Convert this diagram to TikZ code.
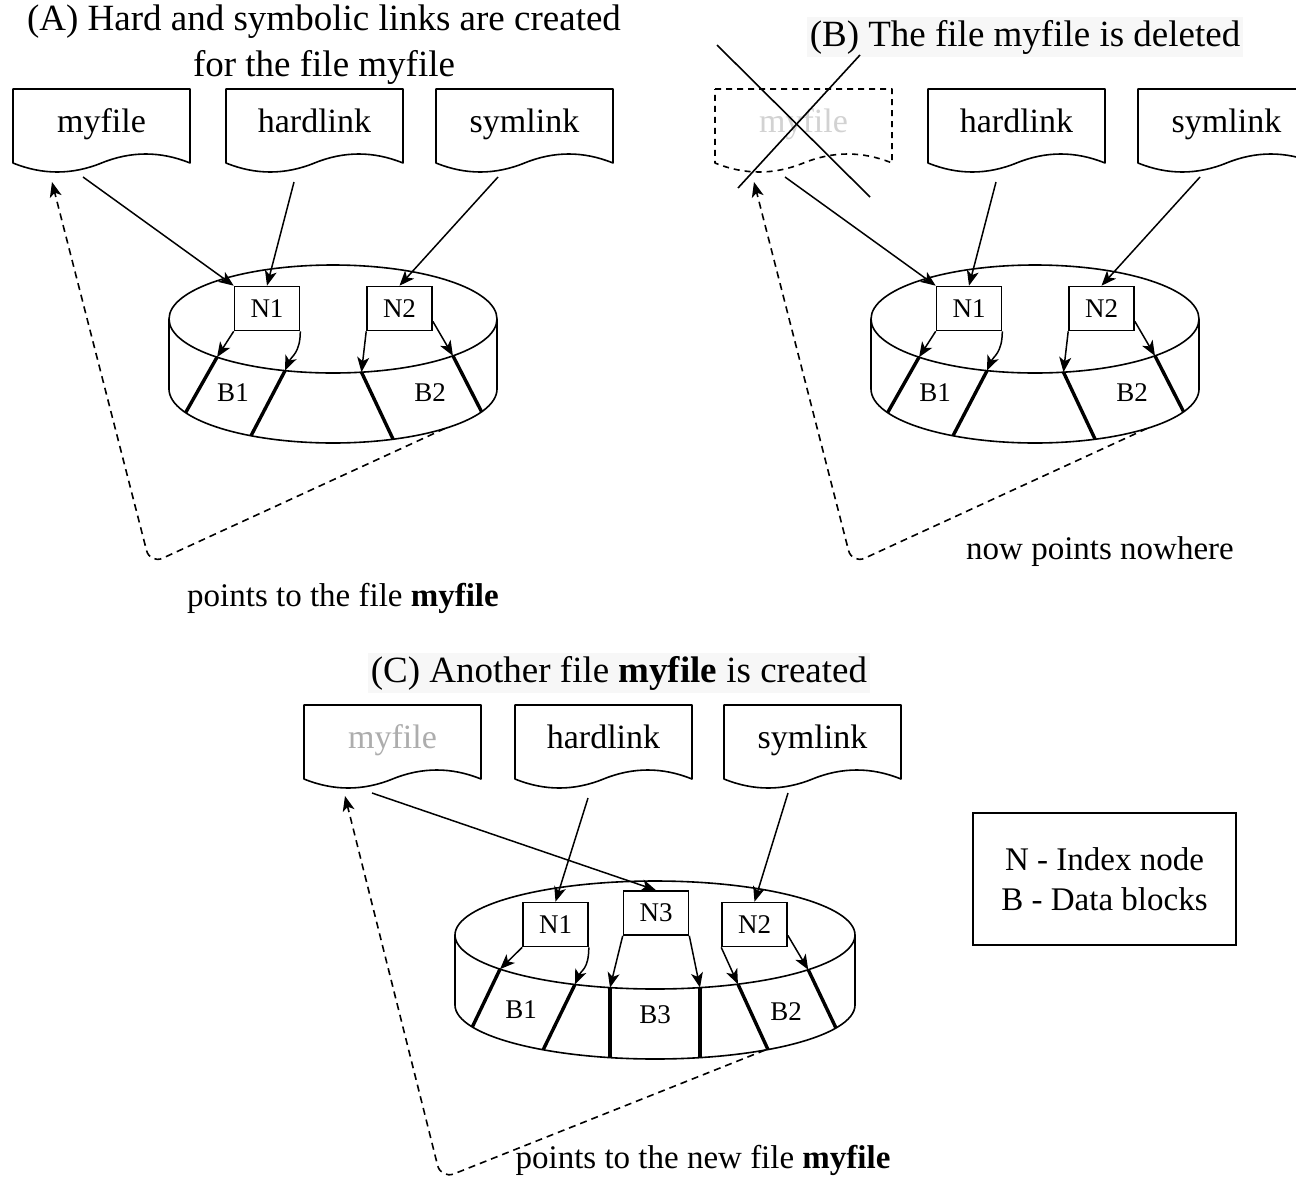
\documentclass[tikz,border=0pt]{standalone}
\usepackage{fontspec}
\setmainfont{Liberation Serif}
\usetikzlibrary{arrows.meta,calc}

% document shape: #1 name, #2 left, #3 top, #4 extra draw options, #5 label
\newcommand\docshape[5]{%
  \begin{scope}[shift={(#2,#3)}]
    \draw[docline,#4] (0,0) -- (177,0) -- (177,74)
      .. controls (147.5,62) and (118,62) .. (88.5,74)
      .. controls (59,86) and (29.5,86) .. (0,74) -- cycle;
    \node[doclabel] (#1) at (88.5,35) {#5};
  \end{scope}}

% disk: #1 cx, #2 cy (top ellipse centre), #3 x radius
\newcommand\diskshape[3]{%
  \fill[white] (#1,#2) ellipse [x radius={#3pt}, y radius=54pt];
  \draw[ln] (#1,#2) ellipse [x radius={#3pt}, y radius=54pt];
  \draw[ln] plot[smooth, domain=0:180, samples=61, variable=\t] ({#1+#3*cos(\t)}, {#2+70+54*sin(\t)});
  \draw[ln] (#1-#3,#2) -- (#1-#3,#2+70);
  \draw[ln] (#1+#3,#2) -- (#1+#3,#2+70);}

% block edge line: #1 cx, #2 cy, #3 rx, #4 top angle, #5 bottom angle, #6 name of top point
\newcommand\blockline[6]{%
  \coordinate (#6) at ({#1+#3*cos(#4)},{#2+54*sin(#4)});
  \draw[blk] (#6) -- ({#1+#3*cos(#5)},{#2+70+54*sin(#5)});}

\begin{document}
\begin{tikzpicture}[x=1pt,y=-1pt,
  ln/.style={line width=1.6pt},
  docline/.style={line width=1.6pt, line join=round},
  blk/.style={line width=3.4pt},
  arr/.style={line width=1.5pt, -{Stealth[length=15pt,width=12pt,inset=4pt]}},
  dsh/.style={line width=1.6pt, dash pattern=on 7pt off 5pt, rounded corners=14pt,
              -{Stealth[length=15pt,width=12pt,inset=4pt]}},
  nbox/.style={draw, fill=white, line width=1.6pt, minimum width=65pt, minimum height=44pt,
               inner sep=0pt, font=\fontsize{27}{30}\selectfont},
  doclabel/.style={inner sep=0pt, text height=24pt, text depth=7pt, font=\fontsize{34}{40}\selectfont},
  ttl/.style={inner sep=3pt, font=\fontsize{37}{46}\selectfont},
  lbl/.style={inner sep=0pt, font=\fontsize{33}{40}\selectfont},
  blab/.style={inner sep=0pt, font=\fontsize{27}{30}\selectfont},
]
\fill[white] (0,0) rectangle (1296,1184);
\useasboundingbox (0,0) rectangle (1296,1184);

%================ Panel A ================
\node[ttl, align=center] (tA) at (324,45) {(A) Hard and symbolic links are created\\for the file myfile};
\docshape{mfA}{13}{89}{}{myfile}
\docshape{hlA}{226}{89}{}{hardlink}
\docshape{slA}{436}{89}{}{symlink}
\coordinate (mfA-s) at (83,177);
\coordinate (hlA-s) at (294,182);
\coordinate (slA-s) at (498,177);
\coordinate (mfA-t) at (52,182);

\diskshape{333}{319}{164}
\blockline{333}{319}{164}{135}{154}{A1}
\blockline{333}{319}{164}{107}{120}{A2}
\blockline{333}{319}{164}{80}{68.5}{A3}
\blockline{333}{319}{164}{43}{25}{A4}
\node[blab] (B1A) at (233,393) {B1};
\node[blab] (B2A) at (430,393) {B2};
\node[nbox] (N1A) at (267,308.5) {N1};
\node[nbox] (N2A) at (399.5,308.5) {N2};

\draw[arr] (mfA-s) -- (N1A.north west);
\draw[arr] (hlA-s) -- (N1A.north);
\draw[arr] (slA-s) -- (N2A.north);
\draw[arr] (N1A.south west) -- (A1);
\draw[arr] (N1A.south east) .. controls +(0,22) and +(6,-14) .. (A2);
\draw[arr] (N2A.south west) -- (A3);
\draw[arr] ([yshift=10pt]N2A.south east) -- (A4);

\coordinate (dA) at ({333+164*cos(47)},{389+54*sin(47)});
\coordinate (cA) at (150,564);
\draw[dsh] (dA) -- (cA) -- (mfA-t);
\node[lbl] (lA) at (343,598) {points to the file \textbf{myfile}};

%================ Panel B ================
\node[ttl, fill=black!3] (tB) at (1025,37) {(B) The file myfile is deleted};
\docshape{mfB}{715}{89}{dash pattern=on 6pt off 5pt}{\color{gray!35}myfile}
\docshape{hlB}{928}{89}{}{hardlink}
\docshape{slB}{1138}{89}{}{symlink}
\coordinate (mfB-s) at (785,177);
\coordinate (hlB-s) at (996,182);
\coordinate (slB-s) at (1200,177);
\coordinate (mfB-t) at (754,182);
\draw[ln] (717,45) -- (870,197);
\draw[ln] (860,55) -- (738,188);

\diskshape{1035}{319}{164}
\blockline{1035}{319}{164}{135}{154}{Bb1}
\blockline{1035}{319}{164}{107}{120}{Bb2}
\blockline{1035}{319}{164}{80}{68.5}{Bb3}
\blockline{1035}{319}{164}{43}{25}{Bb4}
\node[blab] (B1B) at (935,393) {B1};
\node[blab] (B2B) at (1132,393) {B2};
\node[nbox] (N1B) at (969,308.5) {N1};
\node[nbox] (N2B) at (1101.5,308.5) {N2};

\draw[arr] (mfB-s) -- (N1B.north west);
\draw[arr] (hlB-s) -- (N1B.north);
\draw[arr] (slB-s) -- (N2B.north);
\draw[arr] (N1B.south west) -- (Bb1);
\draw[arr] (N1B.south east) .. controls +(0,22) and +(6,-14) .. (Bb2);
\draw[arr] (N2B.south west) -- (Bb3);
\draw[arr] ([yshift=10pt]N2B.south east) -- (Bb4);

\coordinate (dB) at ({1035+164*cos(47)},{389+54*sin(47)});
\coordinate (cB) at (852,564);
\draw[dsh] (dB) -- (cB) -- (mfB-t);
\node[lbl] (lB) at (1100,552) {now points nowhere};

%================ Panel C ================
\node[ttl, fill=black!3] (tC) at (619,673) {(C) Another file \textbf{myfile} is created};
\docshape{mfC}{304}{705}{}{\color{black!32}myfile}
\docshape{hlC}{515}{705}{}{hardlink}
\docshape{slC}{724}{705}{}{symlink}
\coordinate (mfC-s) at (372,793);
\coordinate (hlC-s) at (588,798);
\coordinate (slC-s) at (788,793);
\coordinate (mfC-t) at (345,796);

\diskshape{655}{935}{200}
\blockline{655}{935}{200}{140.8}{156}{C1}
\blockline{655}{935}{200}{113.6}{124}{C2}
\blockline{655}{935}{200}{103}{103}{C3}
\blockline{655}{935}{200}{77}{77}{C4}
\blockline{655}{935}{200}{65.5}{55.6}{C5}
\blockline{655}{935}{200}{40}{25.2}{C6}
\node[blab] (B1C) at (521,1010) {B1};
\node[blab] (B3C) at (655,1015) {B3};
\node[blab] (B2C) at (786,1012) {B2};
\node[nbox] (N1C) at (555.5,924.5) {N1};
\node[nbox] (N3C) at (656,913) {N3};
\node[nbox] (N2C) at (754.5,924.5) {N2};

\draw[arr] (mfC-s) -- (N3C.north);
\draw[arr] (hlC-s) -- (N1C.north);
\draw[arr] (slC-s) -- (N2C.north);
\draw[arr] (N1C.south west) -- (C1);
\draw[arr] (N1C.south east) .. controls +(0,22) and +(6,-14) .. (C2);
\draw[arr] (N3C.south west) -- (C3);
\draw[arr] (N3C.south east) -- (C4);
\draw[arr] (N2C.south west) -- (C5);
\draw[arr] ([yshift=12pt]N2C.south east) -- (C6);

\coordinate (dC) at ({655+200*cos(56.6)},{1005+54*sin(56.6)});
\coordinate (cC) at (441,1179);
\draw[dsh] (dC) -- (cC) -- (mfC-t);
\node[lbl] (lC) at (703,1160) {points to the new file \textbf{myfile}};

%================ Legend ================
\node[draw, line width=1.6pt, minimum width=263pt, minimum height=132pt,
      align=center, font=\fontsize{33}{40}\selectfont] (leg) at (1104.5,879)
      {N - Index node\\B - Data blocks};
\end{tikzpicture}
\end{document}
